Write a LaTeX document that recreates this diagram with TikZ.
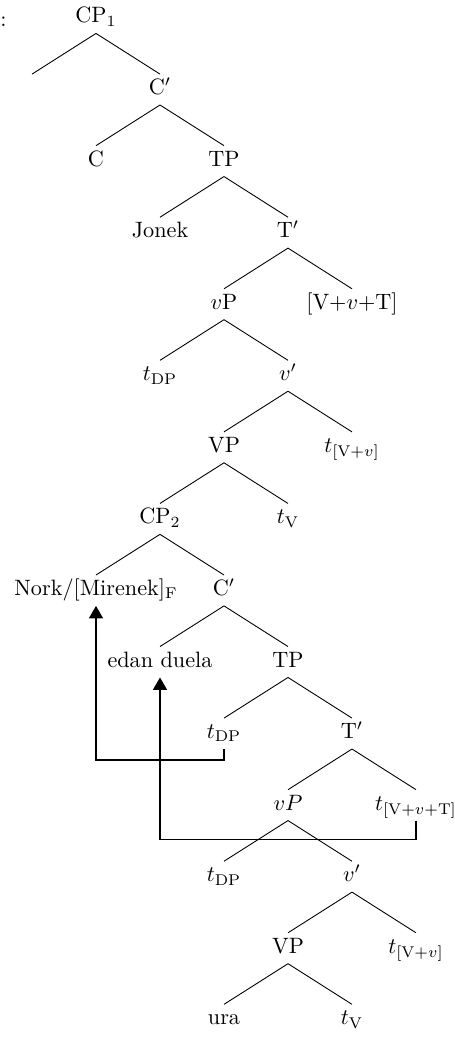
\documentclass[tikz,border=0pt]{standalone}
\usetikzlibrary{positioning,arrows.meta}

\tikzset{
  lbl/.style={font=\fontsize{10pt}{12pt}\selectfont, text height=7pt, text depth=2.5pt, inner sep=2pt},
  move/.style={-{Triangle[width=6.3pt,length=5.6pt]}, line width=0.7pt},
}

\begin{document}
\begin{tikzpicture}[x=0.45pt, y=-0.45pt, node distance=32.2pt and 28.8pt, on grid, every node/.style={lbl}, thin]
  \useasboundingbox (0,0) rectangle (454,1037);
  \node[anchor=west, inner sep=0pt] (colon) at (0,22) {:};
  % upper tree
  \node (cp1) at (96,18) {CP$_1$};
  \node[below left=of cp1] (spec1) {};
  \node[below right=of cp1] (cbar1) {C$'$};
  \node[below left=of cbar1] (c1) {C};
  \node[below right=of cbar1] (tp1) {TP};
  \node[below left=of tp1] (jonek) {Jonek};
  \node[below right=of tp1] (tbar1) {T$'$};
  \node[below left=of tbar1] (vp1) {$v$P};
  \node[below right=of tbar1] (vvt) {[V+$v$+T]};
  \node[below left=of vp1] (tdp1) {$t_{\mathrm{DP}}$};
  \node[below right=of vp1] (vbar1) {$v'$};
  \node[below left=of vbar1] (vpp1) {VP};
  \node[below right=of vbar1] (tvv1) {$t_{[\mathrm{V}+v]}$};
  \node[below left=of vpp1] (cp2) {CP$_2$};
  \node[below right=of vpp1] (tv1) {$t_{\mathrm{V}}$};
  % embedded clause
  \node[below left=of cp2] (nork) {Nork/[Mirenek]$_{\mathrm{F}}$};
  \node[below right=of cp2] (cbar2) {C$'$};
  \node[below left=of cbar2] (edan) {edan duela};
  \node[below right=of cbar2] (tp2) {TP};
  \node[below left=of tp2] (tdp2) {$t_{\mathrm{DP}}$};
  \node[below right=of tp2] (tbar2) {T$'$};
  \node[below left=of tbar2] (vp2) {$vP$};
  \node[below right=of tbar2] (tvvt) {$t_{[\mathrm{V}+v+\mathrm{T}]}$};
  \node[below left=of vp2] (tdp3) {$t_{\mathrm{DP}}$};
  \node[below right=of vp2] (vbar2) {$v'$};
  \node[below left=of vbar2] (vpp2) {VP};
  \node[below right=of vbar2] (tvv2) {$t_{[\mathrm{V}+v]}$};
  \node[below left=of vpp2] (ura) {ura};
  \node[below right=of vpp2] (tv2) {$t_{\mathrm{V}}$};
  % branches
  \draw (cp1.south) -- (spec1.north) (cp1.south) -- (cbar1.north);
  \draw (cbar1.south) -- (c1.north) (cbar1.south) -- (tp1.north);
  \draw (tp1.south) -- (jonek.north) (tp1.south) -- (tbar1.north);
  \draw (tbar1.south) -- (vp1.north) (tbar1.south) -- (vvt.north);
  \draw (vp1.south) -- (tdp1.north) (vp1.south) -- (vbar1.north);
  \draw (vbar1.south) -- (vpp1.north) (vbar1.south) -- (tvv1.north);
  \draw (vpp1.south) -- (cp2.north) (vpp1.south) -- (tv1.north);
  \draw (cp2.south) -- (nork.north) (cp2.south) -- (cbar2.north);
  \draw (cbar2.south) -- (edan.north) (cbar2.south) -- (tp2.north);
  \draw (tp2.south) -- (tdp2.north) (tp2.south) -- (tbar2.north);
  \draw (tbar2.south) -- (vp2.north) (tbar2.south) -- (tvvt.north);
  \draw (vp2.south) -- (tdp3.north) (vp2.south) -- (vbar2.north);
  \draw (vbar2.south) -- (vpp2.north) (vbar2.south) -- (tvv2.north);
  \draw (vpp2.south) -- (ura.north) (vpp2.south) -- (tv2.north);
  % movement
  \draw[move] (tdp2.south) -- ++(0,11) -| (nork.south);
  \draw[move] (tvvt.south) -- ++(0,19) -| (edan.south);
\end{tikzpicture}
\end{document}
